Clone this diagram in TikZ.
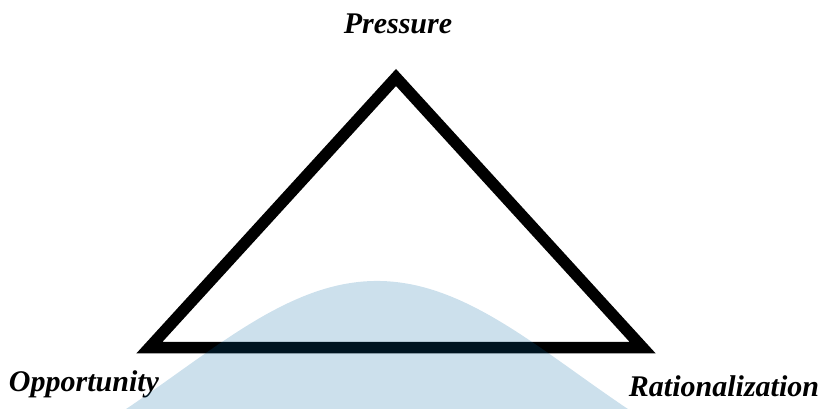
\documentclass[tikz,border=0pt]{standalone}
\usepackage{fontspec}
\setmainfont{Liberation Serif}
\definecolor{bellblue}{RGB}{0,100,160}
\tikzset{
  lbl/.style={font=\fontsize{30}{36}\selectfont\bfseries\itshape, inner sep=0pt, anchor=base},
  tri/.style={draw=black, line width=11.5pt, line join=miter},
  bell/.style={fill=bellblue, fill opacity=0.2}
}
\begin{document}
\begin{tikzpicture}[x=1pt,y=-1pt]
\useasboundingbox (0,0) rectangle (830,408);
\clip (0,0) rectangle (830,408);
\coordinate (P) at (396,77.5);
\coordinate (O) at (149.5,347.5);
\coordinate (R) at (642.5,347.5);
\draw[tri] (P) -- (R) -- (O) -- cycle;
\node[lbl] (pl) at (398,33) {Pressure};
\node[lbl] (ol) at (84,391) {Opportunity};
\node[lbl] (rl) at (724,396) {Rationalization};
\fill[bell] plot[domain=-2.75:2.75, samples=120, smooth] ({377+100*\x}, {281+235*(1-exp(-(\x*\x)/8))}) -- cycle;
\end{tikzpicture}
\end{document}
